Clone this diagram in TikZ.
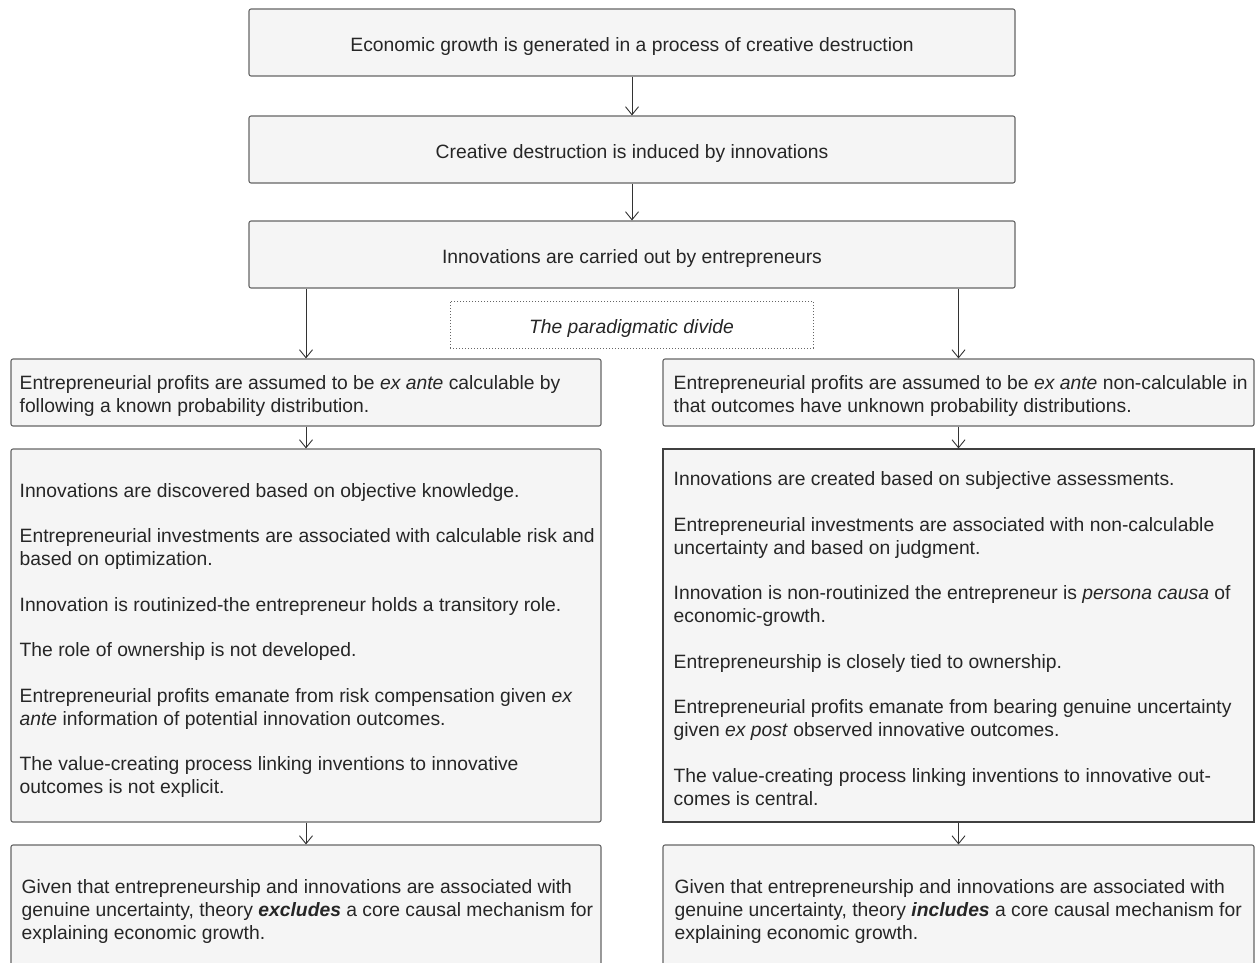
\documentclass[tikz,border=0pt]{standalone}
\usepackage{fontspec}
\setmainfont{Liberation Sans}
\usetikzlibrary{arrows.meta}
\begin{document}
\begin{tikzpicture}[x=1pt,y=-1pt,
  box/.style={draw=black!60, fill=gray!8, line width=1.1pt, rounded corners=2pt, inner sep=0pt},
  sqbox/.style={box, rounded corners=0pt, draw=black!75},
  divbox/.style={draw=black!60, fill=white, dotted, line width=1pt, inner sep=0pt},
  ctxt/.style={font=\fontsize{19.3}{23}\selectfont, text=black!85, inner sep=0pt},
  txt/.style={ctxt, align=left, anchor=west},
  arr/.style={draw=black!80, line width=0.9pt, -{Straight Barb[length=8pt,width=13pt]}}]
\useasboundingbox (0,0) rectangle (1258,963);
\fill[white] (0,0) rectangle (1258,963);

% top chain
\node[box, minimum width=766pt, minimum height=67pt] (b1) at (632,42.5) {};
\node[ctxt] (b1t) at ([yshift=-4pt]b1.center)
  {Economic growth is generated in a process of creative destruction};
\node[box, minimum width=766pt, minimum height=67pt] (b2) at (632,149.5) {};
\node[ctxt] (b2t) at ([yshift=-4pt]b2.center)
  {Creative destruction is induced by innovations};
\node[box, minimum width=766pt, minimum height=67pt] (b3) at (632,254.5) {};
\node[ctxt] (b3t) at ([yshift=-4pt]b3.center)
  {Innovations are carried out by entrepreneurs};
\node[divbox, minimum width=363pt, minimum height=47pt] (div) at (631.5,324.5) {};
\node[ctxt, font=\fontsize{19.3}{23}\selectfont\itshape] (divt) at ([yshift=-4pt]div.center)
  {The paradigmatic divide};

% left column
\node[box, minimum width=590pt, minimum height=67pt] (lA) at (306,392.5) {};
\node[txt] (lAt) at ([xshift=9pt,yshift=-4pt]lA.west)
  {Entrepreneurial profits are assumed to be \textit{ex ante} calculable by\\
   following a known probability distribution.};
\node[box, minimum width=590pt, minimum height=373pt] (lB) at (306,635.5) {};
\node[txt] (lBt) at ([xshift=9pt,yshift=-5pt]lB.west)
  {Innovations are discovered based on objective knowledge.\\[22.5pt]
   Entrepreneurial investments are associated with calculable risk and\\
   based on optimization.\\[22.5pt]
   Innovation is routinized-the entrepreneur holds a transitory role.\\[22.5pt]
   The role of ownership is not developed.\\[22.5pt]
   Entrepreneurial profits emanate from risk compensation given \textit{ex}\\
   \textit{ante} information of potential innovation outcomes.\\[22.5pt]
   The value-creating process linking inventions to innovative\\
   outcomes is not explicit.};
\node[box, minimum width=590pt, minimum height=126pt] (lC) at (306,908) {};
\node[txt] (lCt) at ([xshift=11pt,yshift=-3pt]lC.west)
  {Given that entrepreneurship and innovations are associated with\\
   genuine uncertainty, theory \textbf{\textit{excludes}} a core causal mechanism for\\
   explaining economic growth.};

% right column
\node[box, minimum width=591pt, minimum height=67pt] (rA) at (958.5,392.5) {};
\node[txt] (rAt) at ([xshift=11pt,yshift=-4pt]rA.west)
  {Entrepreneurial profits are assumed to be \textit{ex ante} non-calculable in\\
   that outcomes have unknown probability distributions.};
\node[sqbox, minimum width=591pt, minimum height=373pt] (rB) at (958.5,635.5) {};
\node[txt] (rBt) at ([xshift=11pt,yshift=-3pt]rB.west)
  {Innovations are created based on subjective assessments.\\[22.5pt]
   Entrepreneurial investments are associated with non-calculable\\
   uncertainty and based on judgment.\\[22.5pt]
   Innovation is non-routinized the entrepreneur is \textit{persona causa} of\\
   economic-growth.\\[22.5pt]
   Entrepreneurship is closely tied to ownership.\\[22.5pt]
   Entrepreneurial profits emanate from bearing genuine uncertainty\\
   given \textit{ex post} observed innovative outcomes.\\[22.5pt]
   The value-creating process linking inventions to innovative out-\\
   comes is central.};
\node[box, minimum width=591pt, minimum height=126pt] (rC) at (958.5,908) {};
\node[txt] (rCt) at ([xshift=12pt,yshift=-3pt]rC.west)
  {Given that entrepreneurship and innovations are associated with\\
   genuine uncertainty, theory \textbf{\textit{includes}} a core causal mechanism for\\
   explaining economic growth.};

% connectors
\draw[arr] (b1.south) -- (b2.north);
\draw[arr] (b2.south) -- (b3.north);
\draw[arr] (b3.south -| lA.north) -- (lA.north);
\draw[arr] (b3.south -| rA.north) -- (rA.north);
\draw[arr] (lA.south) -- (lB.north);
\draw[arr] (rA.south) -- (rB.north);
\draw[arr] (lB.south) -- (lC.north);
\draw[arr] (rB.south) -- (rC.north);
\end{tikzpicture}
\end{document}
